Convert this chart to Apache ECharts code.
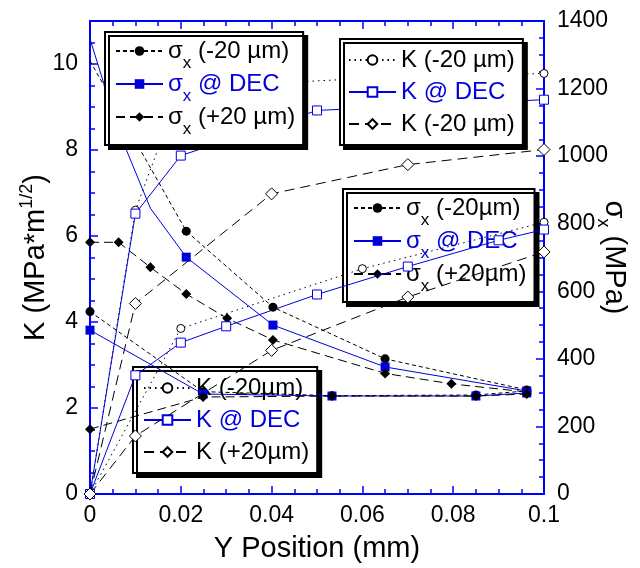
<!DOCTYPE html>
<html><head><meta charset="utf-8">
<script src="https://cdn.jsdelivr.net/npm/echarts@6/dist/echarts.min.js"></script>
<style>html,body{margin:0;padding:0;background:#fff}#c{width:640px;height:568px}</style>
</head><body><div id="c"></div>
<script>
// ---------- data (Y position in mm, K in MPa*m^1/2, sigma_x in MPa) ----------
// Plot A (upper legends)
const sigM20A_x = [0, 0.0212, 0.0403, 0.065, 0.0962];
const sigM20A   = [1282, 778, 553, 400, 308];
const sigDecA_x = [0, 0.0063, 0.0133, 0.0212, 0.0403, 0.065, 0.0962];
const sigDecA   = [1347, 1074, 846, 701, 500, 376, 305];
const sigP20A_x = [0, 0.0063, 0.0133, 0.0212, 0.0302, 0.0403, 0.065, 0.0796, 0.0962];
const sigP20A   = [745, 745, 671, 592, 520, 456, 357, 326, 302];
const kM20A_x = [0, 0.01, 0.02, 0.06, 0.1];
const kM20A   = [0, 6.6, 9.45, 9.66, 9.78];
const kDecA_x = [0, 0.01, 0.02, 0.05, 0.1];
const kDecA   = [0, 6.52, 7.87, 8.92, 9.17];
const kP20A_x = [0, 0.01, 0.04, 0.07, 0.1];
const kP20A   = [0, 4.43, 6.98, 7.66, 8.01];
// Plot B (lower legends)
const sigB_x  = [0, 0.0249, 0.0533, 0.085, 0.0962];
const sigM20B = [540, 303, 291, 293, 305];
const sigDecB = [485, 296, 290, 290, 299];
const sigP20B = [192, 287, 290, 290, 296];
const kM20B_x = [0, 0.02, 0.06, 0.1];
const kM20B   = [0, 3.85, 5.24, 6.32];
const kDecB_x = [0, 0.01, 0.02, 0.03, 0.05, 0.07, 0.09, 0.1];
const kDecB   = [0, 2.76, 3.52, 3.90, 4.64, 5.29, 5.90, 6.15];
const kP20B_x = [0, 0.01, 0.04, 0.07, 0.1];
const kP20B   = [0, 1.35, 3.34, 4.58, 5.63];
// axis ticks
const xTicks = {min: 0, max: 0.1, interval: 0.02};
const kTicks = {min: 0, max: 11, interval: 2};
const sTicks = {min: 0, max: 1400, interval: 200};
// legend texts
const legendText = {
  sA1: '{m|σ}{x|x}{m| (-20 µm)}', sA2: '{m|σ}{x|x}{m| @ DEC}', sA3: '{m|σ}{x|x}{m| (+20 µm)}',
  kA1: 'K (-20 µm)', kA2: 'K @ DEC', kA3: 'K (-20 µm)',
  sB1: '{m|σ}{x|x}{m| (-20µm)}', sB2: '{m|σ}{x|x}{m| @ DEC}', sB3: '{m|σ}{x|x}{m| (+20µm)}',
  kB1: 'K (-20µm)', kB2: 'K @ DEC', kB3: 'K (+20µm)'
};

// ---------- styling ----------
const FONT = 'Liberation Sans, Arial, sans-serif';
const AX = '#0000ff';
const BL = '#0000dd';
const BK = '#000000';
function ser(name, xs, ys, yIdx, o, unmarkedX) {
  const hide = unmarkedX || [];
  return {
    name, type: 'line', xAxisIndex: 0, yAxisIndex: yIdx,
    data: xs.map((x, i) => hide.indexOf(x) >= 0 ? {value: [x, ys[i]], symbol: 'none'} : [x, ys[i]]),
    symbol: o.symbol, symbolSize: o.size, showAllSymbol: true,
    lineStyle: {color: o.color, width: 1, type: o.dash || 'solid'},
    itemStyle: {color: o.fill, borderColor: o.color, borderWidth: o.fill === '#fff' ? 1 : 0},
    emphasis: {disabled: true}, silent: true, z: 3
  };
}
const stFilledCircle = {symbol: 'circle', size: 9, color: BK, fill: BK, dash: [4, 3]};
const stFilledSquare = {symbol: 'rect', size: 9, color: BL, fill: BL};
const stFilledDiamond = {symbol: 'diamond', size: 10, color: BK, fill: BK, dash: [9, 5]};
const stOpenCircle = {symbol: 'circle', size: 8, color: BK, fill: '#fff', dash: [1.5, 4]};
const stOpenSquare = {symbol: 'rect', size: 9, color: BL, fill: '#fff'};
const stOpenDiamond = {symbol: 'diamond', size: 12, color: BK, fill: '#fff', dash: [10, 6]};

const series = [
  ser('kA1', kM20A_x, kM20A, 0, stOpenCircle),
  ser('kA2', kDecA_x, kDecA, 0, stOpenSquare),
  ser('kA3', kP20A_x, kP20A, 0, stOpenDiamond),
  ser('sA1', sigM20A_x, sigM20A, 1, stFilledCircle, [0]),
  ser('sA2', sigDecA_x, sigDecA, 1, stFilledSquare, [0, 0.0133]),
  ser('sA3', sigP20A_x, sigP20A, 1, stFilledDiamond),
  ser('sB1', sigB_x, sigM20B, 1, stFilledCircle),
  ser('sB2', sigB_x, sigDecB, 1, stFilledSquare),
  ser('sB3', sigB_x, sigP20B, 1, stFilledDiamond),
  ser('kB1', kM20B_x, kM20B, 0, stOpenCircle),
  ser('kB2', kDecB_x, kDecB, 0, stOpenSquare),
  ser('kB3', kP20B_x, kP20B, 0, stOpenDiamond)
];

const richSigma = {
  m: {fontSize: 24, lineHeight: 42, verticalAlign: 'middle', fontFamily: FONT},
  x: {fontSize: 17, lineHeight: 17, verticalAlign: 'bottom', fontFamily: FONT}
};
function legend(names, left, top, sigma, z, padding) {
  return {
    orient: 'vertical', left, top, z,
    itemWidth: 47, itemHeight: 12, itemGap: sigma ? 0 : 2,
    padding: padding,
    backgroundColor: '#fff', borderColor: '#000', borderWidth: 2,
    shadowColor: '#000', shadowOffsetX: 4, shadowOffsetY: 4, shadowBlur: 0,
    selectedMode: false,
    textStyle: sigma ? {fontFamily: FONT, fontSize: 24, color: BK, rich: richSigma}
                     : {fontFamily: FONT, fontSize: 24, color: BK, lineHeight: 30},
    formatter: n => legendText[n],
    data: names.map((n, i) => i === 1 ? {name: n, textStyle: {color: BL}} : {name: n})
  };
}

const tickCommon = {
  axisLine: {show: true, onZero: false, lineStyle: {color: AX, width: 2}},
  axisTick: {show: true, inside: true, length: 8, lineStyle: {color: AX, width: 1.5}},
  minorTick: {show: true, splitNumber: 4, length: 5, lineStyle: {color: AX, width: 1.5}},
  splitLine: {show: false},
  nameMoveOverlap: false
};
const plain = v => String(+v.toFixed(4));

const option = {
  animation: false,
  backgroundColor: '#fff',
  grid: {left: 90, right: 96, top: 21, bottom: 74, containLabel: false, outerBoundsMode: 'none'},
  xAxis: [
    Object.assign({type: 'value', position: 'bottom', ...xTicks,
      axisLabel: {color: BK, fontSize: 23, fontFamily: FONT, margin: 10, formatter: plain},
      name: 'Y Position (mm)', nameLocation: 'middle', nameGap: 40,
      nameTextStyle: {color: BK, fontSize: 29, fontFamily: FONT}}, tickCommon),
    Object.assign({type: 'value', position: 'top', ...xTicks, axisLabel: {show: false}}, tickCommon)
  ],
  yAxis: [
    Object.assign({type: 'value', position: 'left', ...kTicks,
      axisLabel: {color: BK, fontSize: 23, fontFamily: FONT, margin: 12, showMaxLabel: false, formatter: plain},
      name: '{m|K (MPa*m}{s|1/2}{m|)}', nameLocation: 'middle', nameGap: 36, nameRotate: 90,
      nameTextStyle: {color: BK, fontFamily: FONT, rich: {
        m: {fontSize: 29, lineHeight: 36, verticalAlign: 'middle', fontFamily: FONT},
        s: {fontSize: 18, lineHeight: 18, verticalAlign: 'top', fontFamily: FONT}}}}, tickCommon),
    Object.assign({type: 'value', position: 'right', ...sTicks,
      axisLabel: {color: BK, fontSize: 23, fontFamily: FONT, margin: 13, formatter: plain},
      name: '{m|σ}{x|x}{m| (MPa)}', nameLocation: 'middle', nameGap: 50, nameRotate: -90,
      nameTextStyle: {color: BK, fontFamily: FONT, rich: {
        m: {fontSize: 29, lineHeight: 40, verticalAlign: 'middle', fontFamily: FONT},
        x: {fontSize: 18, lineHeight: 18, verticalAlign: 'bottom', fontFamily: FONT}}}}, tickCommon)
  ],
  legend: [
    legend(['sA1', 'sA2', 'sA3'], 105, 32, true, 6, [7, 8, 7, 10]),
    legend(['kA1', 'kA2', 'kA3'], 340, 39, false, 6, [6, 8, 6, 8]),
    legend(['sB1', 'sB2', 'sB3'], 343, 189, true, 1, [7, 8, 7, 10]),
    legend(['kB1', 'kB2', 'kB3'], 133, 367, false, 1, [6, 8, 6, 10])
  ],
  series
};
const chart = echarts.init(document.getElementById('c'), null, {renderer: 'canvas'});
chart.setOption(option);
</script></body></html>
